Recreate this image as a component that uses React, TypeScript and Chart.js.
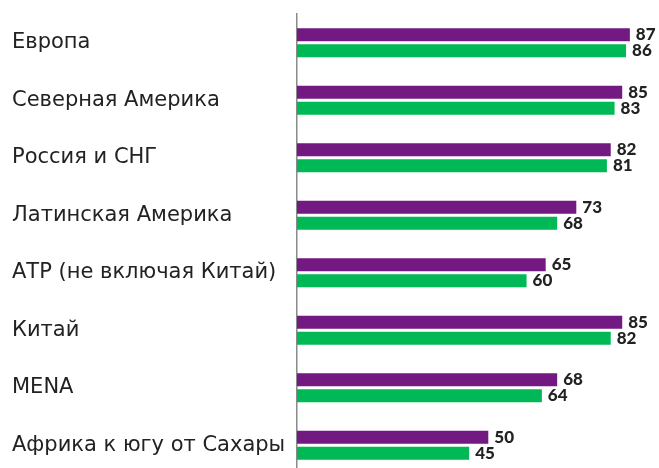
import React, { useEffect, useRef } from "react";
import { Chart, registerables } from "chart.js";

Chart.register(...registerables);

const categories = [
  "Европа",
  "Северная Америка",
  "Россия и СНГ",
  "Латинская Америка",
  "АТР (не включая Китай)",
  "Китай",
  "MENA",
  "Африка к югу от Сахары",
];
const seriesPurple = [87, 85, 82, 73, 65, 85, 68, 50];
const seriesGreen = [86, 83, 81, 68, 60, 82, 64, 45];

const PURPLE = "#731982";
const GREEN = "#00B956";

const valueLabels = {
  id: "valueLabels",
  afterDatasetsDraw(chart: any) {
    const ctx = chart.ctx;
    ctx.save();
    ctx.font = "900 17px Lato";
    ctx.fillStyle = "#222222";
    ctx.textAlign = "left";
    ctx.textBaseline = "middle";
    chart.data.datasets.forEach((ds: any, di: number) => {
      const meta = chart.getDatasetMeta(di);
      meta.data.forEach((el: any, i: number) => {
        ctx.fillText(String(ds.data[i]), el.x + 6, el.y);
      });
    });
    ctx.restore();
  },
};

export default function App() {
  const ref = useRef<HTMLCanvasElement>(null);
  useEffect(() => {
    if (!ref.current) return;
    const chart = new Chart(ref.current, {
      type: "bar",
      data: {
        labels: categories,
        datasets: [
          {
            data: seriesPurple,
            backgroundColor: PURPLE,
            categoryPercentage: 0.5565,
            barPercentage: 0.8125,
          },
          {
            data: seriesGreen,
            backgroundColor: GREEN,
            categoryPercentage: 0.5565,
            barPercentage: 0.8125,
          },
        ],
      },
      options: {
        indexAxis: "y",
        responsive: false,
        animation: false,
        layout: { padding: { left: 12, right: 10, top: 14, bottom: 0 } },
        plugins: {
          legend: { display: false },
          tooltip: { enabled: false },
        },
        scales: {
          x: {
            display: false,
            min: 0,
            max: 92,
          },
          y: {
            afterFit: (scale: any) => {
              scale.width = 285;
              scale.paddingTop = 0;
              scale.paddingBottom = 0;
            },
            grid: { display: false, drawTicks: false },
            border: { display: true, color: "#8a8a8a", width: 1.5 },
            ticks: {
              crossAlign: "far",
              color: "#222222",
              font: { family: "DejaVu Sans", size: 21 },
              padding: 0,
            },
          },
        },
      },
      plugins: [valueLabels],
    });
    return () => chart.destroy();
  }, []);
  return (
    <div
      style={{
        position: "absolute",
        left: 0,
        top: 0,
        width: 659,
        height: 468,
        overflow: "hidden",
        background: "#fff",
      }}
    >
      <canvas ref={ref} width={659} height={474} style={{ display: "block" }} />
    </div>
  );
}
